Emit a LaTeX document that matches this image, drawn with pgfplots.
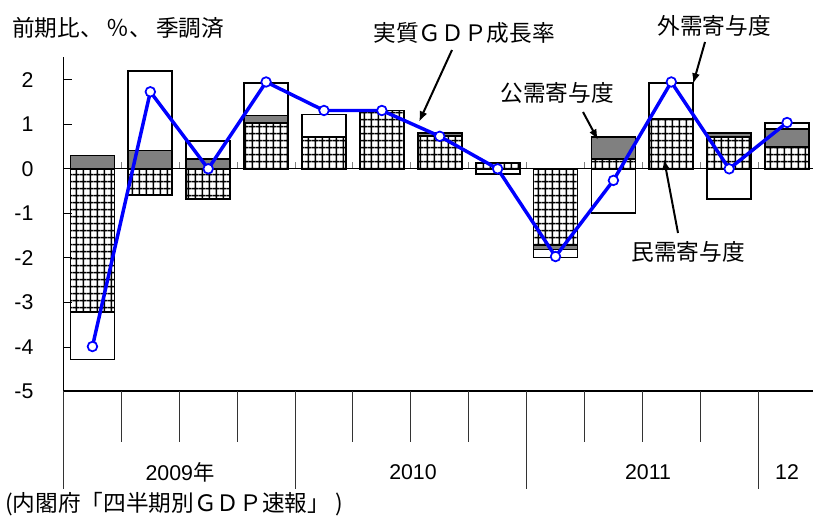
\documentclass[border=0pt]{standalone}
\usepackage{pgfplots}
\pgfplotsset{compat=1.18}
\usepackage{pgfplotstable}
\usepackage{fontspec}
\setmainfont{Liberation Sans}
\newfontfamily\jp{Noto Sans CJK JP}
\usetikzlibrary{arrows.meta,patterns}

\pgfdeclarepatternformonly{biggrid}{\pgfqpoint{0pt}{0pt}}{\pgfqpoint{5.5pt}{5.5pt}}{\pgfqpoint{5.5pt}{5.5pt}}{%
  \pgfsetlinewidth{1.1pt}%
  \pgfpathmoveto{\pgfqpoint{0pt}{2.75pt}}\pgfpathlineto{\pgfqpoint{5.5pt}{2.75pt}}%
  \pgfpathmoveto{\pgfqpoint{2.75pt}{0pt}}\pgfpathlineto{\pgfqpoint{2.75pt}{5.5pt}}%
  \pgfusepath{stroke}}

\pgfplotstableread{
q privP pubP extP privN pubN extN gdp
0  0    0.30 0    -3.21  0    -1.07 -3.99
1  0    0.41 1.78 -0.59  0     0     1.73
2  0    0.22 0.41 -0.68  0     0     0.00
3  1.03 0.17 0.73  0     0     0     1.95
4  0.71 0    0.51  0     0     0     1.31
5  1.31 0    0     0     0     0     1.31
6  0.73 0.08 0     0     0     0     0.73
7  0.13 0    0     0     0    -0.11  0.00
8  0    0    0    -1.71 -0.10 -0.18 -1.97
9  0.22 0.49 0     0     0    -1.00 -0.26
10 1.12 0    0.81  0     0     0     1.95
11 0.72 0.08 0     0     0    -0.68  0.00
12 0.49 0.40 0.14  0     0     0     1.04
}\data

\pgfplotsset{
  base/.style={at={(47.625pt,93.375pt)}, anchor=south west, scale only axis,
    width=564.375pt, height=250.5pt, xmin=-0.5, xmax=12.5, ymin=-5, ymax=2.5, clip=false},
  barstyle/.style={draw=black, line width=1.3pt},
}

\begin{document}
\begin{tikzpicture}
\useasboundingbox (0,0) rectangle (609.75pt,387pt);

% positive stacks + axes
\begin{axis}[base, ybar stacked, bar width=0.76,
  axis x line=bottom, axis y line=left, axis line style={-},
  x axis line style={line width=1.5pt},
  y axis line style={line width=0.6pt},
  xtick=\empty, ytick={-5,-4,...,2}, ytick align=inside, major tick length=6pt,
  y tick style={black, line width=0.6pt},
  yticklabel style={font=\fontsize{16}{18}\selectfont, xshift=-19pt},
  /pgf/number format/assume math mode=true]
  \draw[black, line width=0.9pt] (axis cs:-0.5,0) -- (axis cs:12.5,0);
  \pgfplotsinvokeforeach{0.5,1.5,2.5,3.5,4.5,5.5,6.5,7.5,8.5,9.5,10.5,11.5}{
    \draw[gray, line width=0.8pt] (axis cs:#1,0) -- ++(0pt,5.25pt);}
  \pgfplotsinvokeforeach{0.5,1.5,2.5,4.5,5.5,6.5,8.5,9.5,10.5}{
    \draw[black!80, line width=0.7pt] (axis cs:#1,-5) -- ++(0pt,-38pt);}
  \pgfplotsinvokeforeach{-0.5,3.5,7.5,11.5}{
    \draw[black!80, line width=0.7pt] (axis cs:#1,-5) -- ++(0pt,-73pt);}
  \addplot[barstyle, pattern=biggrid] table[x=q,y=privP]{\data};
  \addplot[barstyle, fill=gray] table[x=q,y=pubP]{\data};
  \addplot[barstyle, fill=white] table[x=q,y=extP]{\data};
\end{axis}

% negative stacks
\begin{axis}[base, hide axis, ybar stacked, bar width=0.76]
  \addplot[barstyle, pattern=biggrid] table[x=q,y=privN]{\data};
  \addplot[barstyle, fill=gray] table[x=q,y=pubN]{\data};
  \addplot[barstyle, fill=white] table[x=q,y=extN]{\data};
\end{axis}

% GDP line
\begin{axis}[base, hide axis]
  \addplot[blue, line width=2.6pt, mark=*, mark size=3.6pt,
    mark options={fill=white, draw=blue, line width=1.3pt, solid}]
    table[x=q,y=gdp]{\data};
\end{axis}

\begin{scope}[x=0.75pt, y=-0.75pt, yshift=387pt]
  \begin{scope}[every node/.style={inner sep=0pt, font=\fontsize{17}{20}\selectfont\jp}]
    \node[anchor=west] at (12,27.5) {前期比、\hspace{3pt}％、\hspace{3pt}季調済};
    \node at (464,33) {実質ＧＤＰ成長率};
    \node at (714,26) {外需寄与度};
    \node at (557,93) {公需寄与度};
    \node at (688,252) {民需寄与度};
    \node[anchor=west] at (5,504) {(内閣府「四半期別ＧＤＰ速報」\hspace{4pt})};
  \end{scope}
  \begin{scope}[every node/.style={inner sep=0pt, font=\fontsize{16}{18}\selectfont}]
    \node at (180,472) {2009{\jp 年}};
    \node at (413,472) {2010};
    \node at (648,472) {2011};
    \node at (787,472) {12};
  \end{scope}
  \begin{scope}[-{Latex[length=8pt,width=6pt]}, line width=1.5pt]
    \draw (452,50) -- (419,122);
    \draw (705,42) -- (693,84);
    \draw (583,112) -- (598,140);
    \draw (678,233) -- (664,159);
  \end{scope}
\end{scope}
\end{tikzpicture}
\end{document}
